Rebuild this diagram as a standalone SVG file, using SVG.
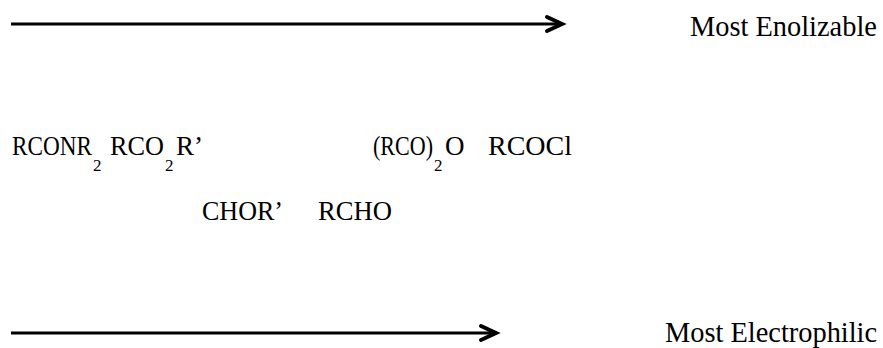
<svg xmlns="http://www.w3.org/2000/svg" width="883" height="348" viewBox="0 0 883 348">
<style>
text { font-family: "Liberation Serif", "Times New Roman", serif; font-size: 27px; fill: #000; }
.lbl { font-size: 28.4px; }
.sub { font-size: 17px; }
.arr { stroke: #000; stroke-width: 3; fill: none; }
.head { stroke: #000; stroke-width: 4; fill: none; stroke-linecap: round; stroke-linejoin: miter; }
</style>
<rect width="883" height="348" fill="#fff"/>
<g id="connectors">
  <line class="arr" x1="11" y1="24" x2="562" y2="24"/>
  <polyline class="head" points="547,17 562,24 547,31"/>
  <line class="arr" x1="11" y1="333" x2="496" y2="333"/>
  <polyline class="head" points="481,326 496,333 481,340"/>
</g>
<g id="label-enolizable"><text class="lbl" x="690" y="36">Most Enolizable</text></g>
<g id="label-electrophilic"><text class="lbl" x="665" y="342">Most Electrophilic</text></g>
<g id="rconr2"><text y="155"><tspan x="12" textLength="80" lengthAdjust="spacingAndGlyphs">RCONR</tspan><tspan class="sub" x="93" y="171">2</tspan></text></g>
<g id="rco2r"><text y="155"><tspan x="110" textLength="54" lengthAdjust="spacingAndGlyphs">RCO</tspan><tspan class="sub" x="165" y="171">2</tspan><tspan x="176" y="155">R’</tspan></text></g>
<g id="rco2o"><text y="155"><tspan x="373" textLength="60" lengthAdjust="spacingAndGlyphs">(RCO)</tspan><tspan class="sub" x="434" y="171">2</tspan><tspan x="445" y="155">O</tspan></text></g>
<g id="rcocl"><text x="488" y="155" textLength="84" lengthAdjust="spacingAndGlyphs">RCOCl</text></g>
<g id="chor"><text x="202" y="220" textLength="81" lengthAdjust="spacingAndGlyphs">CHOR’</text></g>
<g id="rcho"><text x="318" y="220" textLength="74" lengthAdjust="spacingAndGlyphs">RCHO</text></g>
</svg>
